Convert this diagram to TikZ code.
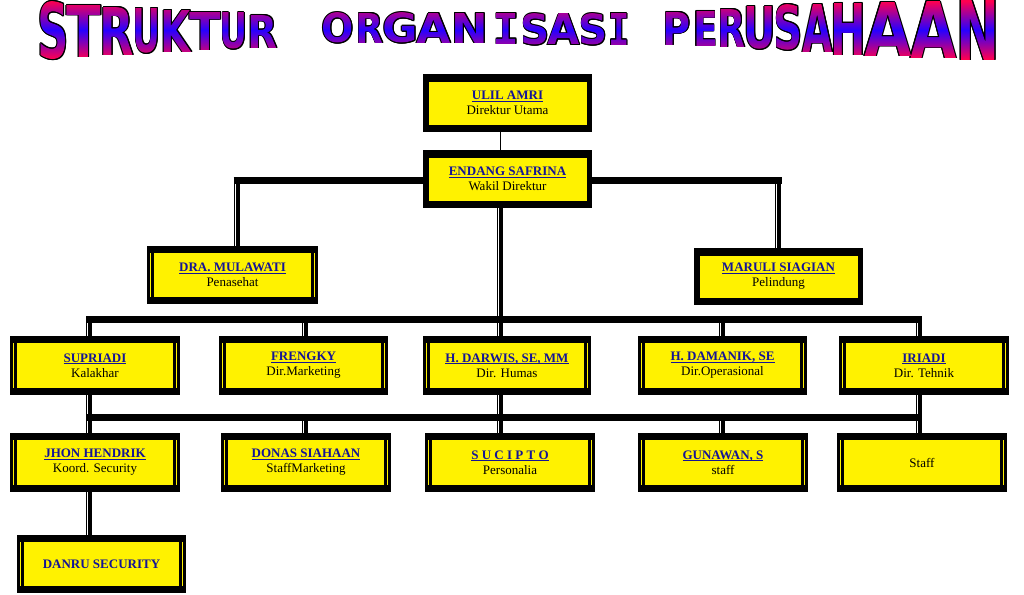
\documentclass[tikz,border=0pt]{standalone}
\usepackage{fontspec}
\setmainfont{Liberation Serif}
\newfontfamily\titlefont{DejaVu Sans}
\newfontfamily\titlemono{DejaVu Sans Mono}
\usepackage{graphicx}
\usetikzlibrary{fadings}
\pgfdeclarelayer{bg}
\pgfsetlayers{bg,main}
\definecolor{nameblue}{RGB}{20,20,150}
\definecolor{tred}{RGB}{255,0,80}
\definecolor{tblue}{RGB}{40,0,255}
\newcommand\orgname[1]{{\bfseries\color{nameblue}\setbox0\hbox{#1}\rlap{\rule[-2.2pt]{\wd0}{1.3pt}}\box0}}
\newcommand\titleglyph[1]{\ifx I#1{\titlemono\bfseries I}\else{\titlefont\bfseries #1}\fi}
\newcommand\titleletters{S/39/68/2/59,T/68/100/5/57,R/101/133/7/55,U/134/160/9/53,K/162/190/10/52,T/191/220/12/50,U/221/247/13/49,R/249/277/15/48,O/323/353/13/43,R/357/383/13/43,G/384/417/13/43,A/418/450/13/43,N/453/487/13/43,I/494/519/13/44,S/522/549/14/45,A/549/579/14/45,S/580/607/14/45,I/609/629/13/45,P/664/690/12/45,E/694/717/11/46,R/719/745/9/47,U/745/775/7/49,S/775/802/5/50,A/804/832/4/52,H/832/865/3/55,A/866/910/2/56,A/912/955/1/58,N/958/998/0/60}
\begin{tikzfadingfrompicture}[name=titlefade,x=1pt,y=-1pt]
\path (-520,-40) (520,40);
\foreach \c/\xa/\xb/\ya/\yb in \titleletters {
  \pgfmathsetmacro\w{(\xb-\xa)*1.08}
  \pgfmathsetmacro\h{\yb-\ya}
  \pgfmathsetmacro\cx{(\xa+\xb)/2-518.5}
  \pgfmathsetmacro\cy{(\ya+\yb)/2-30}
  \node[inner sep=0pt, text=transparent!0] at (\cx,\cy) {\resizebox{\w pt}{\h pt}{\expandafter\titleglyph\expandafter{\c}}};
}
\end{tikzfadingfrompicture}
\tikzset{
  orgbox/.style={rectangle, fill=black, inner sep=0pt, minimum width=#1, minimum height=58pt,
    align=center, font=\fontsize{13}{15}\selectfont,
    path picture={\fill[yellow] ([xshift=5.5pt,yshift=7.5pt]path picture bounding box.south west) rectangle ([xshift=-5.5pt,yshift=-7.5pt]path picture bounding box.north east);}},
  linedbox/.style={rectangle, fill=black, inner sep=0pt, minimum width=#1, minimum height=59pt,
    align=center, font=\fontsize{13}{15}\selectfont,
    path picture={
      \fill[yellow] ([xshift=7pt,yshift=7pt]path picture bounding box.south west) rectangle ([xshift=-7pt,yshift=-7pt]path picture bounding box.north east);
      \fill[yellow] ([xshift=3.2pt,yshift=7pt]path picture bounding box.south west) rectangle ([xshift=4pt,yshift=-7pt]path picture bounding box.north west);
      \fill[yellow] ([xshift=-4pt,yshift=7pt]path picture bounding box.south east) rectangle ([xshift=-3.2pt,yshift=-7pt]path picture bounding box.north east);}},
  hbus/.style={draw=black, line width=7pt},
  vconn/.style={draw=black, line width=6.5pt, postaction={draw=white, line width=1.2pt, transform canvas={xshift=-1.6pt}}},
  thinconn/.style={draw=black, line width=0.8pt},
  titleband/.style={path fading=titlefade, fit fading=false, fading transform={xshift=518.5pt,yshift=-30pt}}
}
\begin{document}
\begin{tikzpicture}[x=1pt,y=-1pt]
\begin{pgfonlayer}{bg}
\fill[white] (0,0) rectangle (1024,594);
\end{pgfonlayer}
\useasboundingbox (0,0) rectangle (1024,594);
% title outline
\foreach \c/\xa/\xb/\ya/\yb in \titleletters {
  \pgfmathsetmacro\w{(\xb-\xa)*1.08}
  \pgfmathsetmacro\h{\yb-\ya}
  \pgfmathsetmacro\cx{(\xa+\xb)/2}
  \pgfmathsetmacro\cy{(\ya+\yb)/2}
  \foreach \dx/\dy in {-0.9/0,0.9/0,0/-0.9,0/0.9,-0.65/-0.65,0.65/0.65,-0.65/0.65,0.65/-0.65}{
    \node[inner sep=0pt, text=black] at (\cx+\dx,\cy+\dy) {\resizebox{\w pt}{\h pt}{\expandafter\titleglyph\expandafter{\c}}};
  }
}
% title gradient fill, in horizontal bands
\foreach \i in {0,...,61}{
  \pgfmathsetmacro\f{min(100,abs(\i+0.5-30.5)/29*100)}
  \fill[tred!\f!tblue, titleband] (28.5,\i) rectangle (1008.5,\i+1.1);
}
% boxes
\node[orgbox=169pt] (ulil) at (507.5,103) {\orgname{ULIL AMRI}\\Direktur Utama};
\node[orgbox=169pt] (endang) at (507.5,179) {\orgname{ENDANG SAFRINA}\\Wakil Direktur};
\node[linedbox=171pt, minimum height=58pt] (dra) at (232.5,275) {\orgname{DRA. MULAWATI}\\Penasehat};
\node[orgbox=169pt, minimum height=57pt] (maruli) at (778.5,276.5) {\orgname{MARULI SIAGIAN}\\Pelindung};
\node[linedbox=170pt] (sup) at (95,365.5) {\orgname{SUPRIADI}\\Kalakhar};
\node[linedbox=169pt] (fren) at (303.5,365.5) {\orgname{FRENGKY}\\Dir.Marketing};
\node[linedbox=168pt] (darwis) at (507,365.5) {\orgname{H. DARWIS, SE, MM}\\Dir. Humas};
\node[linedbox=169pt] (damanik) at (722.5,365.5) {\orgname{H. DAMANIK, SE}\\Dir.Operasional};
\node[linedbox=170pt] (iriadi) at (924,365.5) {\orgname{IRIADI}\\Dir. Tehnik};
\node[linedbox=170pt] (jhon) at (95,462.5) {\orgname{JHON HENDRIK}\\Koord. Security};
\node[linedbox=170pt] (donas) at (306,462.5) {\orgname{DONAS SIAHAAN}\\StaffMarketing};
\node[linedbox=170pt] (sucipto) at (510,462.5) {\orgname{S U C I P T O}\\Personalia};
\node[linedbox=170pt] (gunawan) at (723,462.5) {\orgname{GUNAWAN, S}\\staff};
\node[linedbox=170pt] (staff) at (922,462.5) {Staff};
\node[linedbox=169pt, minimum height=58pt] (danru) at (101.5,564) {{\bfseries\color{nameblue}DANRU SECURITY}};
% connector coordinates
\coordinate (xa) at (89,0);
\coordinate (xb) at (305,0);
\coordinate (xc) at (500,0);
\coordinate (xd) at (722,0);
\coordinate (xe) at (919,0);
\coordinate (xdra) at (237,0);
\coordinate (xmar) at (778,0);
\coordinate (bus1l) at (233.5,180);
\coordinate (bus1r) at (781.5,180);
\coordinate (bus2l) at (86,319);
\coordinate (bus2r) at (922,319);
\coordinate (bus3l) at (86,417);
\coordinate (bus3r) at (922,417);
\begin{pgfonlayer}{bg}
\draw[thinconn] (ulil.south -| xc) -- (endang.north -| xc);
\draw[vconn] (bus1l -| xdra) -- (dra.north -| xdra);
\draw[vconn] (bus1r -| xmar) -- (maruli.north -| xmar);
\draw[vconn] (endang.south -| xc) -- (sucipto.north -| xc);
\draw[vconn] (bus2l -| xa) -- (danru.north -| xa);
\draw[vconn] (bus2l -| xb) -- (fren.north -| xb);
\draw[vconn] (bus3l -| xb) -- (donas.north -| xb);
\draw[vconn] (bus2l -| xd) -- (damanik.north -| xd);
\draw[vconn] (bus3l -| xd) -- (gunawan.north -| xd);
\draw[vconn] (bus2r -| xe) -- (staff.north -| xe);
\draw[hbus] (bus1l) -- (bus1r);
\draw[hbus] (bus2l) -- (bus2r);
\draw[hbus] (bus3l) -- (bus3r);
\end{pgfonlayer}
\end{tikzpicture}
\end{document}
